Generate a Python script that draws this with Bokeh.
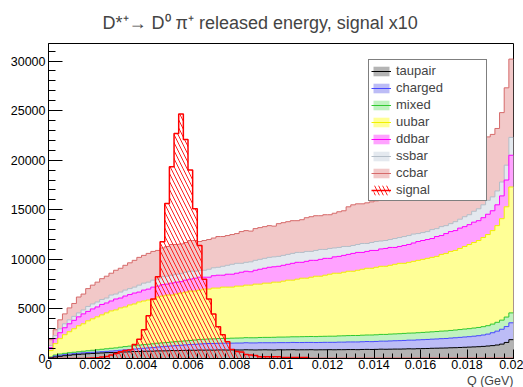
import numpy as np
from bokeh.plotting import figure
from bokeh.models import (Range1d, FixedTicker, Legend, LegendItem, Title,
                          CustomJSTickFormatter)
from bokeh.embed import file_html
from bokeh.resources import INLINE

# ---------------- data (100 bins, Q from 0 to 0.02 GeV) ----------------
q_min, q_max, n_bins = 0.0, 0.02, 100

taupair = [50, 150, 220, 280, 330, 380, 420, 450, 480, 510,
           540, 560, 590, 600, 610, 650, 660, 670, 700, 710,
           730, 740, 740, 770, 770, 780, 800, 790, 810, 820,
           830, 830, 850, 840, 850, 840, 860, 860, 850, 870,
           860, 860, 880, 870, 860, 870, 880, 870, 860, 880,
           870, 880, 890, 870, 880, 880, 890, 870, 880, 880,
           890, 880, 890, 890, 900, 900, 890, 910, 920, 910,
           920, 940, 930, 940, 950, 950, 960, 980, 970, 990,
           1000, 1010, 1030, 1040, 1050, 1060, 1080, 1090, 1110, 1130,
           1150, 1170, 1190, 1220, 1260, 1300, 1360, 1450, 1620, 1900]

charged = [50, 100, 110, 110, 110, 110, 110, 120, 120, 120,
           120, 130, 130, 150, 170, 180, 210, 240, 250, 280,
           300, 330, 360, 390, 420, 450, 470, 510, 530, 550,
           570, 600, 620, 650, 660, 670, 670, 680, 690, 680,
           700, 700, 710, 700, 710, 720, 710, 720, 730, 720,
           730, 720, 730, 740, 730, 740, 730, 740, 740, 750,
           740, 750, 760, 760, 770, 770, 780, 780, 790, 790,
           800, 810, 820, 830, 840, 850, 860, 870, 880, 890,
           900, 910, 920, 930, 950, 960, 980, 1000, 1020, 1040,
           1050, 1080, 1110, 1150, 1200, 1300, 1400, 1500, 1600, 1700]

mixed = [50, 100, 120, 130, 140, 140, 150, 160, 180, 200,
         220, 240, 260, 280, 290, 310, 330, 340, 350, 360,
         370, 370, 380, 380, 390, 390, 390, 400, 400, 410,
         420, 430, 440, 450, 460, 470, 480, 480, 490, 500,
         500, 510, 510, 520, 520, 530, 540, 540, 550, 560,
         560, 570, 570, 580, 590, 590, 600, 600, 610, 610,
         620, 620, 630, 640, 640, 650, 650, 660, 660, 670,
         670, 680, 680, 690, 690, 700, 710, 710, 720, 720,
         730, 740, 740, 750, 760, 760, 770, 780, 790, 800,
         810, 820, 830, 840, 850, 870, 890, 920, 960, 1000]

uubar = [650, 1150, 1550, 1880, 2120, 2370, 2620, 2770, 3020, 3170,
         3320, 3470, 3620, 3770, 3830, 3960, 4000, 4150, 4200, 4350,
         4400, 4460, 4520, 4660, 4720, 4780, 4740, 4800, 4860, 4920,
         4980, 4940, 4990, 5060, 5030, 5120, 5090, 5180, 5170, 5150,
         5240, 5230, 5300, 5310, 5410, 5380, 5470, 5470, 5560, 5540,
         5640, 5730, 5710, 5810, 5900, 5890, 5980, 6090, 6070, 6160,
         6250, 6350, 6320, 6410, 6490, 6480, 6580, 6650, 6730, 6730,
         6810, 6870, 6870, 6940, 7020, 7100, 7070, 7140, 7230, 7300,
         7370, 7440, 7510, 7580, 7740, 7820, 7970, 8030, 8180, 8330,
         8490, 8630, 8770, 8990, 9190, 9430, 9750, 10230, 11120, 12700]

ddbar = [300, 500, 600, 700, 800, 850, 900, 1000, 950, 1000,
         1000, 1050, 1000, 1000, 1100, 1000, 1100, 1050, 1100, 1000,
         1100, 1100, 1200, 1100, 1150, 1100, 1200, 1200, 1150, 1200,
         1200, 1300, 1300, 1200, 1200, 1250, 1300, 1200, 1300, 1300,
         1300, 1400, 1400, 1350, 1400, 1500, 1500, 1600, 1550, 1600,
         1600, 1600, 1700, 1700, 1600, 1700, 1700, 1600, 1700, 1700,
         1600, 1650, 1700, 1700, 1700, 1800, 1800, 1700, 1700, 1800,
         1700, 1750, 1800, 1800, 1700, 1700, 1800, 1800, 1850, 1900,
         1900, 1900, 1900, 2000, 1900, 2000, 2000, 2000, 2050, 2000,
         2000, 2050, 2000, 2000, 2050, 2000, 2100, 2300, 2700, 3200]

ssbar = [200, 300, 400, 400, 400, 400, 400, 400, 500, 500,
         500, 500, 500, 600, 500, 600, 600, 600, 600, 700,
         700, 700, 700, 700, 800, 800, 800, 800, 800, 800,
         800, 700, 700, 700, 800, 800, 800, 900, 900, 1000,
         1000, 900, 900, 1000, 1000, 1000, 1000, 1000, 1000, 1000,
         1000, 1000, 1000, 1000, 1000, 1000, 900, 1000, 1000, 900,
         1000, 900, 900, 900, 800, 800, 800, 900, 800, 800,
         900, 800, 800, 800, 900, 900, 900, 900, 900, 800,
         800, 800, 900, 800, 900, 800, 800, 900, 900, 1000,
         1000, 1100, 1200, 1300, 1400, 1400, 1400, 1400, 1500, 1800]

ccbar = [600, 600, 900, 1000, 1200, 1300, 1600, 1600, 1800, 1900,
         2000, 2100, 2200, 2200, 2400, 2400, 2500, 2600, 2700, 2800,
         2800, 2900, 2900, 2900, 2900, 3000, 3100, 3000, 3000, 3000,
         3100, 3100, 2900, 3000, 3000, 3000, 3100, 3000, 3000, 3000,
         3000, 3200, 3200, 3100, 3200, 3200, 3200, 3200, 3100, 3300,
         3300, 3300, 3300, 3200, 3300, 3400, 3500, 3500, 3400, 3500,
         3400, 3500, 3600, 3600, 4000, 4100, 4100, 4000, 4100, 4100,
         4100, 4200, 4200, 4300, 4300, 4300, 4400, 4400, 4500, 4500,
         4600, 4700, 4600, 4700, 4700, 4900, 4900, 5000, 5000, 5000,
         5100, 5200, 5300, 5500, 6400, 6300, 6300, 7000, 7800, 7900]

signal_x10 = [0, 0, 0, 0, 0, 0, 0, 0, 30, 60,
              80, 150, 200, 350, 500, 690, 800, 860, 1400, 1950,
              2900, 4300, 6000, 8250, 11770, 15640, 19340, 22700, 24650, 22100,
              19000, 15100, 11400, 8000, 6000, 4500, 3200, 2400, 1700, 900,
              700, 650, 400, 350, 300, 180, 180, 180, 180, 180,
              100, 100, 100, 100, 100, 100, 0, 0, 0, 0,
              0, 0, 0, 0, 0, 0, 0, 0, 0, 0,
              0, 0, 0, 0, 0, 0, 0, 0, 0, 0,
              0, 0, 0, 0, 0, 0, 0, 0, 0, 0,
              0, 0, 0, 0, 0, 0, 0, 0, 0, 0]

layer_names = ["taupair", "charged", "mixed", "uubar", "ddbar", "ssbar", "ccbar"]
layer_values = [taupair, charged, mixed, uubar, ddbar, ssbar, ccbar]
fill_colors = ["#b4b4b4", "#bcbcf6", "#c0f2c0", "#ffff96", "#ffa2ff", "#e4e9ef", "#f2c8c8"]
line_colors = ["#000000", "#4848ff", "#30c830", "#f0f000", "#ff00ff", "#b4bec8", "#d66a6a"]

x_ticks = [0, 0.002, 0.004, 0.006, 0.008, 0.01, 0.012, 0.014, 0.016, 0.018, 0.02]
y_ticks = [0, 5000, 10000, 15000, 20000, 25000, 30000]
y_max = 31770

FONT = "Liberation Sans"

# ---------------- figure ----------------
p = figure(width=523, height=387,
           x_range=Range1d(q_min, q_max), y_range=Range1d(0, y_max),
           output_backend="svg", toolbar_location=None,
           min_border_left=48, min_border_right=10,
           min_border_top=0, min_border_bottom=28,
           background_fill_color="white", border_fill_color="white")
p.xgrid.visible = False
p.ygrid.visible = False
p.outline_line_color = "black"
p.outline_line_width = 1

edges = np.linspace(q_min, q_max, n_bins + 1)
step_x = np.repeat(edges, 2)[1:-1]


def step_y(vals):
    return np.repeat(np.asarray(vals, dtype=float), 2)


cum = np.cumsum(np.array(layer_values, dtype=float), axis=0)

renderers = {}
for idx in reversed(range(len(layer_names))):
    top = cum[idx]
    sy = step_y(top)
    px = np.concatenate([step_x, [edges[-1], edges[0]]])
    py = np.concatenate([sy, [0, 0]])
    rp = p.patch(px, py, fill_color=fill_colors[idx], fill_alpha=1, line_color=None)
    rl = p.line(step_x, sy, line_color=line_colors[idx], line_width=1)
    renderers[layer_names[idx]] = [rp, rl]

# signal (x10) on top, hatched
sig_y = step_y(signal_x10)
spx = np.concatenate([step_x, [edges[-1], edges[0]]])
spy = np.concatenate([sig_y, [0, 0]])
rs = p.patch(spx, spy, fill_alpha=0, line_color=None,
             hatch_pattern="\\", hatch_color="#ff2020", hatch_scale=8, hatch_weight=1)
rsl = p.line(step_x, sig_y, line_color="#ff0000", line_width=1.5)
renderers["signal"] = [rs, rsl]

# ---------------- axes ----------------
p.xaxis.ticker = FixedTicker(ticks=x_ticks,
                             minor_ticks=[i * 0.0004 for i in range(51)])
p.yaxis.ticker = FixedTicker(ticks=y_ticks,
                             minor_ticks=list(range(0, 32000, 1000)))
p.xaxis.formatter = CustomJSTickFormatter(
    code="return tick == 0 ? '0' : String(parseFloat(tick.toFixed(4)));")
p.yaxis.formatter = CustomJSTickFormatter(code="return tick.toFixed(0);")

for ax in (p.xaxis[0], p.yaxis[0]):
    ax.axis_line_color = "black"
    ax.major_tick_line_color = "black"
    ax.minor_tick_line_color = "black"
    ax.major_tick_out = 0
    ax.minor_tick_out = 0
    ax.major_label_text_font = FONT
    ax.major_label_text_font_size = "12.5px"
    ax.major_label_text_color = "black"

p.yaxis.major_tick_in = 14
p.yaxis.minor_tick_in = 7
p.yaxis.major_label_standoff = 3
p.xaxis.major_tick_in = 9
p.xaxis.minor_tick_in = 5
p.xaxis.major_label_standoff = 1

# ---------------- texts ----------------
p.title.text = "D*⁺→ D⁰ π⁺ released energy, signal x10"
p.title.text_font = FONT
p.title.text_font_size = "18px"
p.title.text_font_style = "normal"
p.title.align = "left"
p.title.vertical_align = "bottom"
p.title.offset = 54
p.title.standoff = 21

xlabel = Title(text="Q (GeV)", align="right", text_font=FONT,
               text_font_size="12.5px", text_font_style="normal",
               standoff=0, offset=0)
p.add_layout(xlabel, "below")

# ---------------- legend ----------------
order = ["taupair", "charged", "mixed", "uubar", "ddbar", "ssbar", "ccbar", "signal"]
items = [LegendItem(label=n, renderers=renderers[n]) for n in order]
legend = Legend(items=items, location=(320, 157),
                label_text_font=FONT, label_text_font_size="13px",
                glyph_width=20, glyph_height=12, label_height=17, label_width=88,
                spacing=0, padding=2, margin=0, label_standoff=5,
                border_line_color="black", border_line_width=1,
                background_fill_color="white", background_fill_alpha=1)
p.add_layout(legend)

open("out.html", "w").write(file_html(p, INLINE))
